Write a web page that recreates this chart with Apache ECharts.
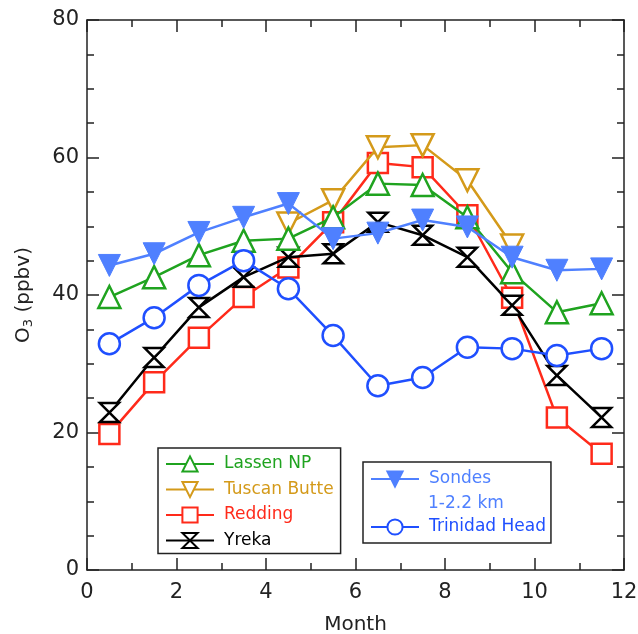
<!DOCTYPE html>
<html>
<head>
<meta charset="utf-8">
<script src="https://cdn.jsdelivr.net/npm/echarts@6/dist/echarts.min.js"></script>
<style>
html,body{margin:0;padding:0;background:#fff;}
#main{width:638px;height:634px;}
</style>
</head>
<body>
<div id="main"></div>
<script>
const months = [0.5,1.5,2.5,3.5,4.5,5.5,6.5,7.5,8.5,9.5,10.5,11.5];
const lassen   = [39.7,42.6,45.8,47.9,48.2,51.3,56.2,56.0,51.3,43.3,37.5,38.8];
const tuscanMonths = [4.5,5.5,6.5,7.5,8.5,9.5];
const tuscan   = [50.4,53.8,61.5,61.8,56.7,47.2];
const redding  = [19.8,27.3,33.8,39.7,44.0,50.6,59.2,58.6,51.6,39.6,22.2,16.9];
const yreka    = [22.9,30.9,38.2,42.6,45.5,46.0,50.6,48.7,45.5,38.5,28.3,22.2];
const sondes   = [44.3,46.0,49.1,51.3,53.3,48.2,49.0,50.9,49.9,45.5,43.6,43.8];
const trinidad = [32.9,36.7,41.4,45.0,40.9,34.1,26.8,28.0,32.4,32.2,31.2,32.2];
const xTicks = [0,2,4,6,8,10,12];
const yTicks = [0,20,40,60,80];

const FONT = 'DejaVu Sans';
const C = {
  lassen:'#1fa31f', tuscan:'#d49a1a', redding:'#ff2a1a', yreka:'#000000',
  sondes:'#4f80ff', trinidad:'#1f4fff'
};
const zip = (xs, ys) => xs.map((x,i)=>[x, ys[i]]);
const hourglass = 'path://M0,0 L10,0 L0,10 L10,10 Z';

function mk(name, xs, ys, color, symbol, size, opts) {
  return Object.assign({
    name, type:'line', data: zip(xs, ys),
    symbol, symbolSize: size, showAllSymbol: true,
    lineStyle:{color, width:2.5},
    itemStyle:{color:'#ffffff', borderColor:color, borderWidth:2.5},
    emphasis:{disabled:true}, animation:false
  }, opts||{});
}

const axisCommon = {
  type:'value', min:0, max:12, interval:2,
  axisLine:{show:true, onZero:false, lineStyle:{color:'#222', width:1.5}},
  axisTick:{show:true, inside:true, length:12, lineStyle:{color:'#222', width:1.5}},
  minorTick:{show:true, splitNumber:2, length:7, lineStyle:{color:'#222', width:1.5}},
  splitLine:{show:false}
};
const yCommon = {
  type:'value', min:0, max:80, interval:20,
  axisLine:{show:true, onZero:false, lineStyle:{color:'#222', width:1.5}},
  axisTick:{show:true, inside:true, length:12, lineStyle:{color:'#222', width:1.5}},
  minorTick:{show:true, splitNumber:4, length:7, lineStyle:{color:'#222', width:1.5}},
  splitLine:{show:false}
};

const chart = echarts.init(document.getElementById('main'), null, {renderer:'canvas'});
chart.setOption({
  backgroundColor:'#ffffff',
  textStyle:{fontFamily:FONT},
  grid:{left:87, right:14, top:20, bottom:64, containLabel:false, outerBoundsMode:'none'},
  xAxis:[
    Object.assign({}, axisCommon, {
      position:'bottom',
      name:'Month', nameLocation:'middle', nameGap:45,
      nameTextStyle:{fontFamily:FONT, fontSize:20, color:'#222'},
      axisLabel:{show:true, fontFamily:FONT, fontSize:21, color:'#222', margin:12,
        formatter: v => xTicks.includes(v) ? String(v) : ''}
    }),
    Object.assign({}, axisCommon, {position:'top', axisLabel:{show:false}})
  ],
  yAxis:[
    Object.assign({}, yCommon, {
      position:'left',
      name:'O{sub|3} (ppbv)', nameLocation:'middle', nameGap:52,
      nameTextStyle:{fontFamily:FONT, fontSize:20, color:'#222',
        rich:{sub:{fontFamily:FONT, fontSize:13, color:'#222', padding:[10,0,0,0]}}},
      axisLabel:{show:true, fontFamily:FONT, fontSize:21, color:'#222', margin:8,
        formatter: v => yTicks.includes(v) ? String(v) : ''}
    }),
    Object.assign({}, yCommon, {position:'right', axisLabel:{show:false}})
  ],
  legend:[
    {
      data:[
        {name:'Lassen NP', textStyle:{color:C.lassen}},
        {name:'Tuscan Butte', textStyle:{color:C.tuscan}},
        {name:'Redding', textStyle:{color:C.redding}},
        {name:'Yreka', textStyle:{color:C.yreka}}
      ],
      orient:'vertical', left:158, top:448,
      padding:[7,7,4,7], itemGap:7.5, itemWidth:48, itemHeight:19,
      borderColor:'#222', borderWidth:1.5, backgroundColor:'#fff',
      textStyle:{fontFamily:FONT, fontSize:17, lineHeight:18, padding:[0,0,0,5]},
      selectedMode:false
    },
    {
      data:[
        {name:'Sondes', textStyle:{color:C.sondes}},
        {name:'Trinidad Head', textStyle:{color:C.trinidad}}
      ],
      orient:'vertical', left:363, top:462,
      padding:[8,5,7,7], itemGap:30, itemWidth:48, itemHeight:19,
      borderColor:'#222', borderWidth:1.5, backgroundColor:'#fff',
      textStyle:{fontFamily:FONT, fontSize:17, lineHeight:18, padding:[0,0,0,5]},
      selectedMode:false
    }
  ],
  graphic:[{
    type:'text', left:428, top:495, z:100,
    style:{text:'1-2.2 km', fontFamily:FONT, fontSize:17, fill:C.sondes}
  }],
  series:[
    mk('Redding', months, redding, C.redding, 'rect', 20, {z:2}),
    mk('Yreka', months, yreka, C.yreka, hourglass, 19, {z:3}),
    mk('Tuscan Butte', tuscanMonths, tuscan, C.tuscan, 'triangle', 22, {symbolRotate:180, z:4}),
    mk('Lassen NP', months, lassen, C.lassen, 'triangle', 22, {z:5}),
    mk('Trinidad Head', months, trinidad, C.trinidad, 'circle', 21, {z:6}),
    mk('Sondes', months, sondes, C.sondes, 'triangle', 22, {symbolRotate:180, z:7,
      itemStyle:{color:C.sondes, borderColor:C.sondes, borderWidth:1}})
  ]
});
</script>
</body>
</html>
